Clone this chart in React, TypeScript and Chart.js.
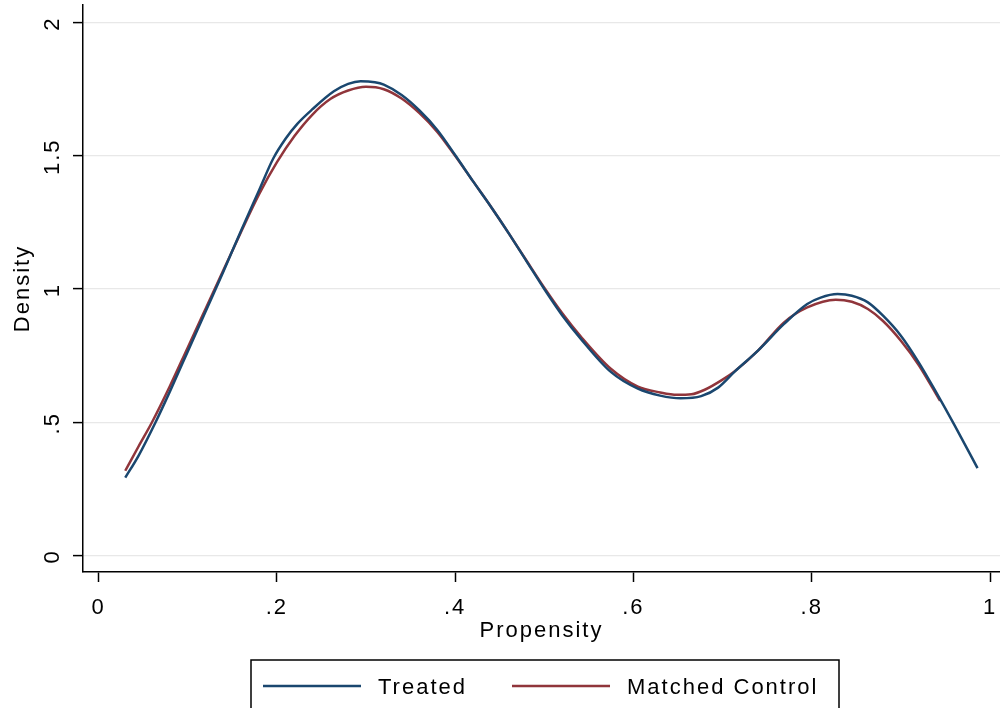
import React, { useEffect, useRef } from "react";
import { Chart, registerables } from "chart.js";

Chart.register(...registerables);

// ---- data ----
const treatedX = [0.030, 0.045, 0.064, 0.080, 0.100, 0.120, 0.140, 0.160, 0.180, 0.196, 0.210, 0.223, 0.240, 0.264, 0.280, 0.294, 0.310, 0.320, 0.340, 0.360, 0.380, 0.400, 0.420, 0.440, 0.460, 0.480, 0.500, 0.520, 0.541, 0.575, 0.605, 0.630, 0.653, 0.676, 0.695, 0.713, 0.740, 0.769, 0.795, 0.810, 0.829, 0.845, 0.863, 0.880, 0.900, 0.920, 0.940, 0.960, 0.986];
const treatedY = [0.292, 0.375, 0.500, 0.615, 0.765, 0.915, 1.065, 1.220, 1.370, 1.490, 1.565, 1.620, 1.675, 1.742, 1.770, 1.780, 1.776, 1.767, 1.728, 1.670, 1.597, 1.503, 1.405, 1.310, 1.210, 1.105, 1.000, 0.902, 0.813, 0.688, 0.626, 0.600, 0.590, 0.598, 0.630, 0.688, 0.770, 0.869, 0.944, 0.968, 0.981, 0.975, 0.950, 0.900, 0.825, 0.725, 0.610, 0.490, 0.328];

const controlX = [0.030, 0.045, 0.060, 0.080, 0.100, 0.120, 0.140, 0.160, 0.180, 0.200, 0.220, 0.240, 0.260, 0.280, 0.300, 0.320, 0.340, 0.360, 0.380, 0.400, 0.420, 0.440, 0.460, 0.480, 0.500, 0.520, 0.541, 0.575, 0.605, 0.630, 0.649, 0.665, 0.680, 0.700, 0.713, 0.740, 0.769, 0.795, 0.827, 0.845, 0.863, 0.880, 0.900, 0.920, 0.944];
const controlY = [0.318, 0.410, 0.500, 0.635, 0.780, 0.925, 1.070, 1.215, 1.355, 1.475, 1.575, 1.655, 1.713, 1.745, 1.759, 1.750, 1.715, 1.660, 1.590, 1.500, 1.405, 1.310, 1.210, 1.107, 1.005, 0.910, 0.822, 0.700, 0.634, 0.612, 0.603, 0.605, 0.622, 0.660, 0.690, 0.770, 0.875, 0.931, 0.960, 0.952, 0.925, 0.880, 0.806, 0.715, 0.580];

const seriesLabels = ["Treated", "Matched Control"];
const seriesColors = ["#1a476f", "#90353b"];

const xTicks = [0, 0.2, 0.4, 0.6, 0.8, 1];
const xTickLabels = ["0", ".2", ".4", ".6", ".8", "1"];
const yTicks = [0, 0.5, 1, 1.5, 2];
const yTickLabels = ["0", ".5", "1", "1.5", "2"];

const xTitle = "Propensity";
const yTitle = "Density";

const FONT = '"Liberation Sans", Arial, Helvetica, sans-serif';
const SPACING = "2px";

const spacingPlugin = {
  id: "spacing",
  beforeDraw(chart: any) {
    (chart.ctx as any).letterSpacing = SPACING;
  },
};

const yLabelPlugin = {
  id: "yLabels",
  afterDraw(chart: any) {
    const ctx = chart.ctx;
    const ys = chart.scales.y;
    ctx.save();
    (ctx as any).letterSpacing = SPACING;
    ctx.font = `22px ${FONT}`;
    ctx.fillStyle = "#000";
    ctx.textAlign = "center";
    ctx.textBaseline = "middle";
    yTicks.forEach((v, i) => {
      const py = ys.getPixelForValue(v);
      ctx.save();
      ctx.translate(53, py + 1);
      ctx.rotate(-Math.PI / 2);
      ctx.fillText(yTickLabels[i], 0, 0);
      ctx.restore();
    });
    ctx.restore();
  },
};

const legendPlugin = {
  id: "boxLegend",
  afterDraw(chart: any) {
    const ctx = chart.ctx;
    const ds = chart.data.datasets;
    ctx.save();
    (ctx as any).letterSpacing = SPACING;
    ctx.strokeStyle = "#000";
    ctx.lineWidth = 1.5;
    ctx.strokeRect(251, 660, 588, 70);
    const lineStarts = [263, 512];
    const textStarts = [378, 627];
    ctx.font = `22px ${FONT}`;
    ctx.textBaseline = "alphabetic";
    ctx.textAlign = "left";
    ds.forEach((d: any, i: number) => {
      ctx.strokeStyle = d.borderColor;
      ctx.lineWidth = 2.5;
      ctx.beginPath();
      ctx.moveTo(lineStarts[i], 686);
      ctx.lineTo(lineStarts[i] + 98, 686);
      ctx.stroke();
      ctx.fillStyle = "#000";
      ctx.fillText(d.label, textStarts[i], 694);
    });
    ctx.restore();
  },
};

export default function App() {
  const ref = useRef<HTMLCanvasElement>(null);
  useEffect(() => {
    document.body.style.margin = "0";
    const canvas = ref.current!;
    const chart = new Chart(canvas, {
      type: "line",
      data: {
        datasets: [
          {
            label: seriesLabels[0],
            data: treatedX.map((x, i) => ({ x, y: treatedY[i] })),
            borderColor: seriesColors[0],
            backgroundColor: seriesColors[0],
            borderWidth: 2.5,
            pointRadius: 0,
            cubicInterpolationMode: "monotone",
            fill: false,
          },
          {
            label: seriesLabels[1],
            data: controlX.map((x, i) => ({ x, y: controlY[i] })),
            borderColor: seriesColors[1],
            backgroundColor: seriesColors[1],
            borderWidth: 2.5,
            pointRadius: 0,
            cubicInterpolationMode: "monotone",
            fill: false,
          },
        ],
      },
      options: {
        responsive: false,
        animation: false,
        events: [],
        layout: { padding: { top: 5, right: 0, bottom: 62, left: 0 } },
        plugins: { legend: { display: false }, tooltip: { enabled: false } },
        scales: {
          x: {
            type: "linear",
            min: -0.0174,
            max: 1.0112,
            afterBuildTicks: (s: any) => {
              s.ticks = xTicks.map((v) => ({ value: v }));
            },
            afterFit: (s: any) => {
              s.height = 74;
              s.paddingLeft = 0;
              s.paddingRight = 0;
            },
            grid: {
              drawOnChartArea: false,
              drawTicks: true,
              tickLength: 10,
              tickColor: "#000",
              tickWidth: 1.5,
            },
            border: { display: true, color: "#000", width: 1.5 },
            ticks: {
              padding: 13,
              maxRotation: 0,
              color: "#000",
              font: { family: FONT, size: 22 },
              callback: (v: any) => {
                const i = xTicks.findIndex((t) => Math.abs(t - v) < 1e-9);
                return i >= 0 ? xTickLabels[i] : "";
              },
            },
            title: {
              display: true,
              text: xTitle,
              color: "#000",
              font: { family: FONT, size: 22 },
              padding: { top: 0, bottom: 2 },
            },
          },
          y: {
            type: "linear",
            min: -0.062,
            max: 2.066,
            afterBuildTicks: (s: any) => {
              s.ticks = yTicks.map((v) => ({ value: v }));
            },
            afterFit: (s: any) => {
              s.width = 83;
              s.paddingTop = 0;
              s.paddingBottom = 0;
            },
            grid: {
              color: "#e8e8e8",
              lineWidth: 1.2,
              drawTicks: true,
              tickLength: 10,
              tickColor: "#000",
              tickWidth: 1.5,
            },
            border: { display: true, color: "#000", width: 1.5 },
            ticks: { display: false },
            title: {
              display: true,
              text: yTitle,
              color: "#000",
              font: { family: FONT, size: 22 },
              padding: { top: 10, bottom: 0 },
            },
          },
        },
      },
      plugins: [spacingPlugin, yLabelPlugin, legendPlugin],
    } as any);
    return () => chart.destroy();
  }, []);
  return (
    <canvas
      ref={ref}
      width={1000}
      height={708}
      style={{ display: "block", width: 1000, height: 708 }}
    />
  );
}
